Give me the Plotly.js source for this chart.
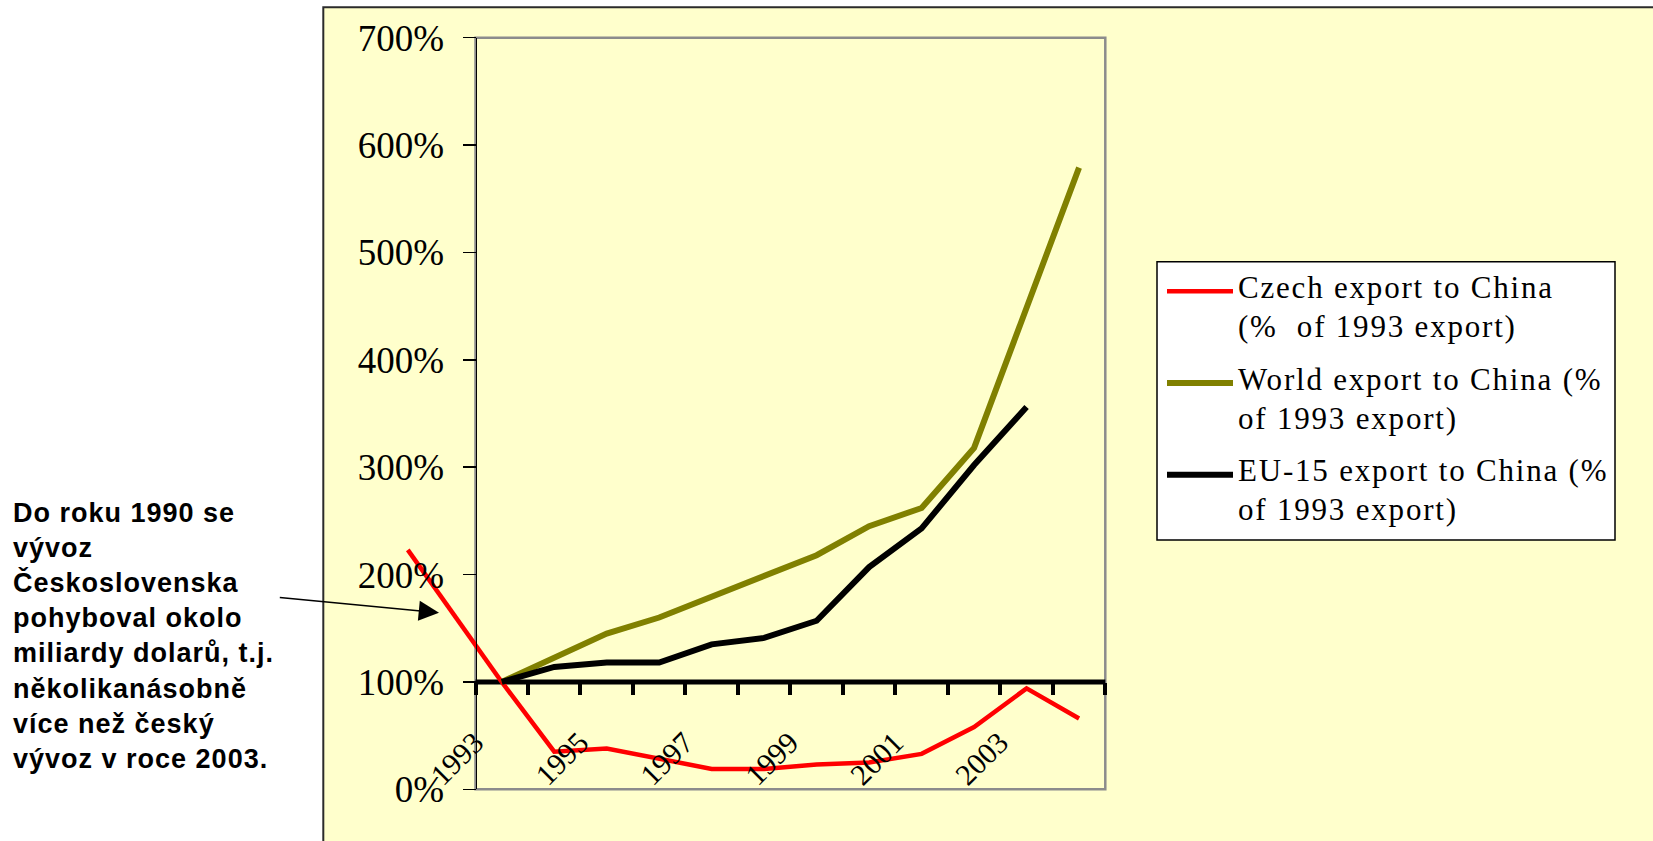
<!DOCTYPE html>
<html>
<head>
<meta charset="utf-8">
<script src="https://cdn.plot.ly/plotly-3.0.1.min.js"></script>
<style>
  html, body { margin: 0; padding: 0; background: #ffffff; }
  #chart { width: 1653px; height: 841px; }
</style>
</head>
<body>
<div id="chart"></div>
<script>
// ---- data (export to China, % of the 1993 level) ----
const years = [1993, 1994, 1995, 1996, 1997, 1998, 1999, 2000, 2001, 2002, 2003, 2004];
const czechExport = [100, 35, 38, 29, 19, 19, 23, 25, 33, 58, 94, 66];
const worldExport = [100, 122, 145, 160, 179, 198, 218, 245, 262, 318, 450, 579];
const eu15Export  = [100, 114, 118, 118, 135, 141, 157, 207, 243, 302, 356, null];

// hand-drawn lead-in: Czechoslovak exports before 1993, relative to 1993
const preYears  = [1991.21, 1993];
const preCzech  = [223, 100];

const tickYears = [1993, 1995, 1997, 1999, 2001, 2003];
const seriesNames = [
  ['Czech export to China', '(%  of 1993 export)'],
  ['World export to China (%', 'of 1993 export)'],
  ['EU-15 export to China (%', 'of 1993 export)']
];
const noteLines = [
  'Do roku 1990 se',
  'vývoz',
  'Československa',
  'pohyboval okolo',
  'miliardy dolarů, t.j.',
  'několikanásobně',
  'více než český',
  'vývoz v roce 2003.'
];

// ---- page geometry ----
const W = 1653, H = 841;
const px = v => v / W;
const py = v => 1 - v / H;

const plotLeft = 475.5, plotRight = 1105.3, plotTop = 37.7, plotBottom = 789.3;
const drawLeft = 400;                       // room for the lead-in line
const catWidth = (plotRight - plotLeft) / years.length;
const xLo = (years[0] - 0.5) - (plotLeft - drawLeft) / catWidth;
const xHi = years[years.length - 1] + 0.5;
const yMax = 700;

const xDomain = [px(drawLeft), px(plotRight)];
const yDomain = [py(plotBottom), py(plotTop)];
const yPaper = v => yDomain[0] + (v / yMax) * (yDomain[1] - yDomain[0]);
const boundaries = years.map(y => y - 0.5).concat([xHi]);

const colors = { czech: '#FF0000', world: '#808000', eu: '#000000' };
const serif = 'Liberation Serif, Times New Roman, serif';
const sans = 'Liberation Sans, Arial, sans-serif';

const traces = [
  { x: preYears, y: preCzech, type: 'scatter', mode: 'lines',
    line: { color: colors.czech, width: 4.5 }, hoverinfo: 'skip', showlegend: false },
  { x: years, y: czechExport, type: 'scatter', mode: 'lines', name: seriesNames[0].join(' '),
    line: { color: colors.czech, width: 4.5 } },
  { x: years, y: worldExport, type: 'scatter', mode: 'lines', name: seriesNames[1].join(' '),
    line: { color: colors.world, width: 6 } },
  { x: years, y: eu15Export, type: 'scatter', mode: 'lines', name: seriesNames[2].join(' '),
    line: { color: colors.eu, width: 6 }, connectgaps: false }
];

// ---- legend box, drawn by hand ----
const legendBox = { x0: 1157, x1: 1615, y0: 261.7, y1: 540 };
const legendFirstBaseline = 298.3, legendItemStep = 91.7, legendLineStep = 39;
const legendSwatchX = [1167, 1233];
const legendColors = [colors.czech, colors.world, colors.eu];
const legendWidths = [4.5, 6, 6];

const shapes = [
  // chart area
  { type: 'rect', xref: 'paper', yref: 'paper', layer: 'below',
    x0: px(323.3), x1: 1.02, y0: -0.02, y1: py(7.3),
    fillcolor: '#FFFFCC', line: { color: '#2b2b2b', width: 2 } },
  // plot area frame
  { type: 'rect', xref: 'paper', yref: 'paper', layer: 'below',
    x0: px(plotLeft), x1: xDomain[1], y0: yDomain[0], y1: yDomain[1],
    line: { color: '#8c8c8c', width: 2.5 } },
  // category axis crossing at 100 %
  { type: 'line', xref: 'paper', yref: 'paper', layer: 'below',
    x0: px(plotLeft), x1: xDomain[1], y0: yPaper(100), y1: yPaper(100),
    line: { color: '#000000', width: 5 } },
  // legend frame
  { type: 'rect', xref: 'paper', yref: 'paper', layer: 'above',
    x0: px(legendBox.x0), x1: px(legendBox.x1), y0: py(legendBox.y1), y1: py(legendBox.y0),
    fillcolor: '#FFFFFF', line: { color: '#000000', width: 1.5 } }
];

const annotations = [];
seriesNames.forEach((lines, i) => {
  const base = legendFirstBaseline + i * legendItemStep;
  const swatchY = base - 7;
  shapes.push({ type: 'line', xref: 'paper', yref: 'paper', layer: 'above',
    x0: px(legendSwatchX[0]), x1: px(legendSwatchX[1]), y0: py(swatchY), y1: py(swatchY),
    line: { color: legendColors[i], width: legendWidths[i] } });
  lines.forEach((t, j) => {
    annotations.push({ xref: 'paper', yref: 'paper', x: px(1236), y: py(base + j * legendLineStep - 11),
      xanchor: 'left', yanchor: 'middle', showarrow: false,
      text: '<span style="letter-spacing:1.8px">' + t + '</span>',
      font: { family: serif, size: 31, color: '#000000' } });
  });
});

// side note with arrow
annotations.push({ xref: 'paper', yref: 'paper', x: px(11), y: py(636.3),
  xanchor: 'left', yanchor: 'middle', align: 'left', showarrow: false,
  text: '<span style="letter-spacing:1px">' + noteLines.join('<br>') + '</span>',
  font: { family: sans, size: 27, color: '#000000', weight: 'bold' } });
annotations.push({ xref: 'paper', yref: 'paper', x: px(439), y: py(612.7),
  ax: 278.3 - 439, ay: 597.3 - 612.7, axref: 'pixel', ayref: 'pixel',
  text: '', showarrow: true, arrowhead: 2, arrowsize: 2.7, arrowwidth: 1.5, arrowcolor: '#000000' });

const layout = {
  width: W, height: H,
  margin: { l: 0, r: 0, t: 0, b: 0 },
  paper_bgcolor: '#FFFFFF',
  plot_bgcolor: 'rgba(0,0,0,0)',
  showlegend: false,
  xaxis: {
    domain: xDomain, range: [xLo, xHi], anchor: 'free', position: yPaper(100),
    showline: false, showgrid: false, zeroline: false,
    tickmode: 'array', tickvals: tickYears, ticktext: tickYears.map(String),
    ticks: '', tickangle: -45, ticklabelstandoff: 36, ticklabelshift: -27,
    tickfont: { family: serif, size: 30, color: '#000000' },
    minor: { tickmode: 'array', tickvals: boundaries, ticks: 'outside',
             ticklen: 12, tickwidth: 4, tickcolor: '#000000', showgrid: false }
  },
  yaxis: {
    domain: yDomain, range: [0, yMax], anchor: 'free', position: px(plotLeft),
    showline: true, linecolor: '#000000', linewidth: 1.5,
    showgrid: false, zeroline: false,
    tickmode: 'linear', tick0: 0, dtick: 100, ticksuffix: '%',
    ticks: 'outside', ticklen: 13, tickwidth: 1.5, tickcolor: '#000000',
    ticklabelstandoff: 11,
    tickfont: { family: serif, size: 37, color: '#000000' }
  },
  shapes: shapes,
  annotations: annotations
};

Plotly.newPlot('chart', traces, layout, { displayModeBar: false, staticPlot: true });
</script>
</body>
</html>
